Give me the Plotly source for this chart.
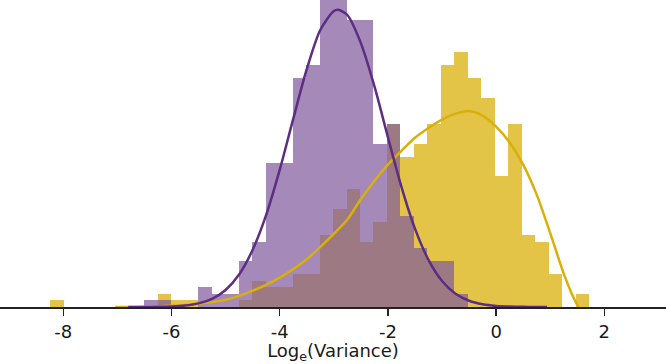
import plotly.graph_objects as go

# ---- data ----
bin_first_left = -8.243
bin_width = 0.249
# counts per bin, bin i spans [bin_first_left + i*bin_width, ... + bin_width]
gold_counts = [1, 0, 0, 0, 0, 0, 0, 0, 2, 1,
               1, 0, 0, 0, 1, 4, 3, 3, 5, 5,
               11, 15, 18, 10, 13, 28, 23, 25, 28, 37,
               39, 35, 32, 20, 28, 11, 10, 5, 0, 2]
purple_counts = [0, 0, 0, 0, 0, 0, 0, 1, 1, 0,
                 0, 3, 2, 2, 7, 10, 22, 22, 35, 37,
                 50, 49, 44, 44, 25, 28, 14, 9, 7, 7,
                 2, 0, 0, 0, 0, 0, 0, 0, 0, 0]

# fitted curves (same count units)
purple_curve_x = [-6.8, -6.5, -6.25, -6.0, -5.75, -5.5, -5.25, -5.0, -4.75, -4.5,
                  -4.25, -4.0, -3.75, -3.5, -3.25, -3.0, -2.92, -2.75, -2.5, -2.25,
                  -2.0, -1.75, -1.5, -1.25, -1.0, -0.75, -0.5, -0.25, 0.0, 0.25,
                  0.5, 0.75, 0.94]
purple_curve_y = [0.0, 0.01, 0.03, 0.09, 0.23, 0.56, 1.26, 2.61, 4.98, 8.76,
                  14.1, 21.0, 28.8, 36.4, 42.4, 45.3, 45.5, 44.7, 40.4, 33.8,
                  26.0, 18.4, 12.0, 7.21, 3.98, 2.03, 0.95, 0.41, 0.16, 0.06,
                  0.02, 0.005, 0.0]
gold_curve_x = [-7.04, -6.5, -6.0, -5.5, -5.0, -4.75, -4.5, -4.25, -4.0, -3.75,
                -3.5, -3.25, -3.0, -2.75, -2.5, -2.25, -2.0, -1.75, -1.5, -1.25,
                -1.0, -0.75, -0.5, -0.25, 0.0, 0.25, 0.5, 0.75, 1.0, 1.25,
                1.4, 1.52]
gold_curve_y = [0.0, 0.05, 0.18, 0.5, 1.1, 1.7, 2.5, 3.4, 4.5, 5.8,
                7.3, 9.2, 11.2, 13.4, 16.5, 19.3, 21.8, 23.9, 25.9, 27.4,
                28.7, 29.6, 30.0, 29.3, 27.6, 25.2, 21.8, 17.2, 11.3, 5.1,
                2.0, 0.0]

tick_values = [-8, -6, -4, -2, 0, 2]
tick_labels = ["-8", "-6", "-4", "-2", "0", "2"]
x_title = "Log<sub>e</sub>(Variance)"

# ---- figure ----
n_bins = len(gold_counts)
centers = [bin_first_left + (i + 0.5) * bin_width for i in range(n_bins)]

GOLD = "rgb(217,176,10)"
PURPLE = "rgb(92,45,131)"

fig = go.Figure()
fig.add_trace(go.Bar(x=centers, y=gold_counts, width=bin_width,
                     marker=dict(color="rgba(217,176,10,0.75)", line=dict(width=0)),
                     showlegend=False, hoverinfo="skip"))
fig.add_trace(go.Bar(x=centers, y=purple_counts, width=bin_width,
                     marker=dict(color="rgba(130,91,156,0.72)", line=dict(width=0)),
                     showlegend=False, hoverinfo="skip"))
fig.add_trace(go.Scatter(x=gold_curve_x, y=gold_curve_y, mode="lines",
                         line=dict(color=GOLD, width=2.5, shape="spline", smoothing=0.8),
                         showlegend=False, hoverinfo="skip"))
fig.add_trace(go.Scatter(x=purple_curve_x, y=purple_curve_y, mode="lines",
                         line=dict(color=PURPLE, width=2.5, shape="spline", smoothing=0.8),
                         showlegend=False, hoverinfo="skip"))

fig.update_layout(
    width=666, height=364,
    margin=dict(l=0, r=0, t=0, b=57),
    paper_bgcolor="white", plot_bgcolor="white",
    barmode="overlay", bargap=0,
    font=dict(family="DejaVu Sans", color="#1a1a1a", size=18),
    xaxis=dict(range=[-9.17, 3.14], tickvals=tick_values, ticktext=tick_labels,
               showline=True, linecolor="#222222", linewidth=2,
               ticks="outside", ticklen=7, tickwidth=1.5, tickcolor="#222222",
               showgrid=False, zeroline=False,
               tickfont=dict(size=18, family="DejaVu Sans"),
               title=dict(text=x_title, font=dict(size=18, family="DejaVu Sans"), standoff=9)),
    yaxis=dict(range=[0, 47], visible=False, showgrid=False, zeroline=False),
)

fig.write_html("out.html",
               config={"displayModeBar": False, "staticPlot": True},
               post_script="document.body.style.margin='0';document.body.style.overflow='hidden';")
